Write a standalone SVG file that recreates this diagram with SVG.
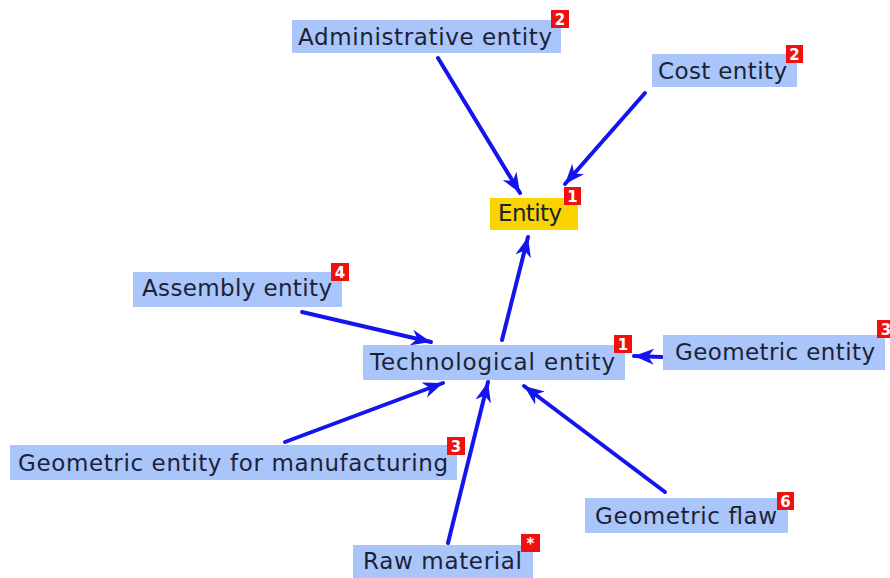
<svg xmlns="http://www.w3.org/2000/svg" width="890" height="578" viewBox="0 0 890 578">
  <defs>
    <marker id="arrow" markerUnits="userSpaceOnUse" markerWidth="22" markerHeight="18" refX="20" refY="9" orient="auto">
      <path d="M0,1 L20,9 L0,17 L6,9 Z" fill="#1414ee"/>
    </marker>
    <style>
      .box { fill: #aac5fa; }
      .root { fill: #f9d400; }
      .lbl { font-family: "DejaVu Sans", "Liberation Sans", sans-serif; font-size: 23px; fill: #1c2236; }
      .badge { fill: #f01010; }
      .num { font-family: "DejaVu Sans", "Liberation Sans", sans-serif; font-size: 15px; font-weight: bold; fill: #ffffff; text-anchor: middle; }
      .edge { stroke: #1414ee; stroke-width: 4; fill: none; stroke-linecap: round; marker-end: url(#arrow); }
    </style>
  </defs>
  <rect width="890" height="578" fill="#ffffff"/>

  <!-- connectors -->
  <g id="edges">
    <path class="edge" d="M438,58 L520,193"/>
    <path class="edge" d="M645,93 L565,184"/>
    <path class="edge" d="M502,340 L528,237"/>
    <path class="edge" d="M302,312 L431,342"/>
    <path class="edge" d="M662,357 L634,356"/>
    <path class="edge" d="M285,442 L443,383"/>
    <path class="edge" d="M448,543 L488,382"/>
    <path class="edge" d="M665,492 L524,386"/>
  </g>

  <!-- nodes -->
  <g id="administrative-entity">
    <rect class="box" x="292" y="20" width="269" height="33"/>
    <text class="lbl" x="298" y="45" textLength="254" lengthAdjust="spacing">Administrative entity</text>
    <rect class="badge" x="551" y="10" width="18" height="18"/>
    <text class="num" x="560" y="25">2</text>
  </g>

  <g id="cost-entity">
    <rect class="box" x="652" y="54" width="145" height="33"/>
    <text class="lbl" x="658" y="79" textLength="129" lengthAdjust="spacing">Cost entity</text>
    <rect class="badge" x="786" y="45" width="17" height="18"/>
    <text class="num" x="794.5" y="60">2</text>
  </g>

  <g id="entity">
    <rect class="root" x="490" y="198" width="88" height="32"/>
    <text class="lbl" x="498" y="221" textLength="64" lengthAdjust="spacing">Entity</text>
    <rect class="badge" x="564" y="187" width="17" height="18"/>
    <text class="num" x="572.5" y="202">1</text>
  </g>

  <g id="assembly-entity">
    <rect class="box" x="133" y="272" width="209" height="35"/>
    <text class="lbl" x="142" y="296" textLength="190" lengthAdjust="spacing">Assembly entity</text>
    <rect class="badge" x="331" y="263" width="18" height="18"/>
    <text class="num" x="340" y="278">4</text>
  </g>

  <g id="technological-entity">
    <rect class="box" x="363" y="345" width="262" height="35"/>
    <text class="lbl" x="370" y="370" textLength="245" lengthAdjust="spacing">Technological entity</text>
    <rect class="badge" x="614" y="335" width="18" height="18"/>
    <text class="num" x="623" y="350">1</text>
  </g>

  <g id="geometric-entity">
    <rect class="box" x="663" y="335" width="222" height="35"/>
    <text class="lbl" x="675" y="360" textLength="200" lengthAdjust="spacing">Geometric entity</text>
    <rect class="badge" x="877" y="320" width="18" height="18"/>
    <text class="num" x="886" y="335">3</text>
  </g>

  <g id="geometric-entity-for-manufacturing">
    <rect class="box" x="10" y="445" width="447" height="35"/>
    <text class="lbl" x="18" y="471" textLength="430" lengthAdjust="spacing">Geometric entity for manufacturing</text>
    <rect class="badge" x="447" y="437" width="18" height="18"/>
    <text class="num" x="456" y="452">3</text>
  </g>

  <g id="geometric-flaw">
    <rect class="box" x="585" y="498" width="203" height="35"/>
    <text class="lbl" x="595" y="524" textLength="182" lengthAdjust="spacing">Geometric flaw</text>
    <rect class="badge" x="777" y="492" width="17" height="18"/>
    <text class="num" x="785.5" y="507">6</text>
  </g>

  <g id="raw-material">
    <rect class="box" x="353" y="545" width="180" height="33"/>
    <text class="lbl" x="363" y="569" textLength="159" lengthAdjust="spacing">Raw material</text>
    <rect class="badge" x="521" y="534" width="19" height="18"/>
    <text class="num" x="530.5" y="549">*</text>
  </g>
</svg>
